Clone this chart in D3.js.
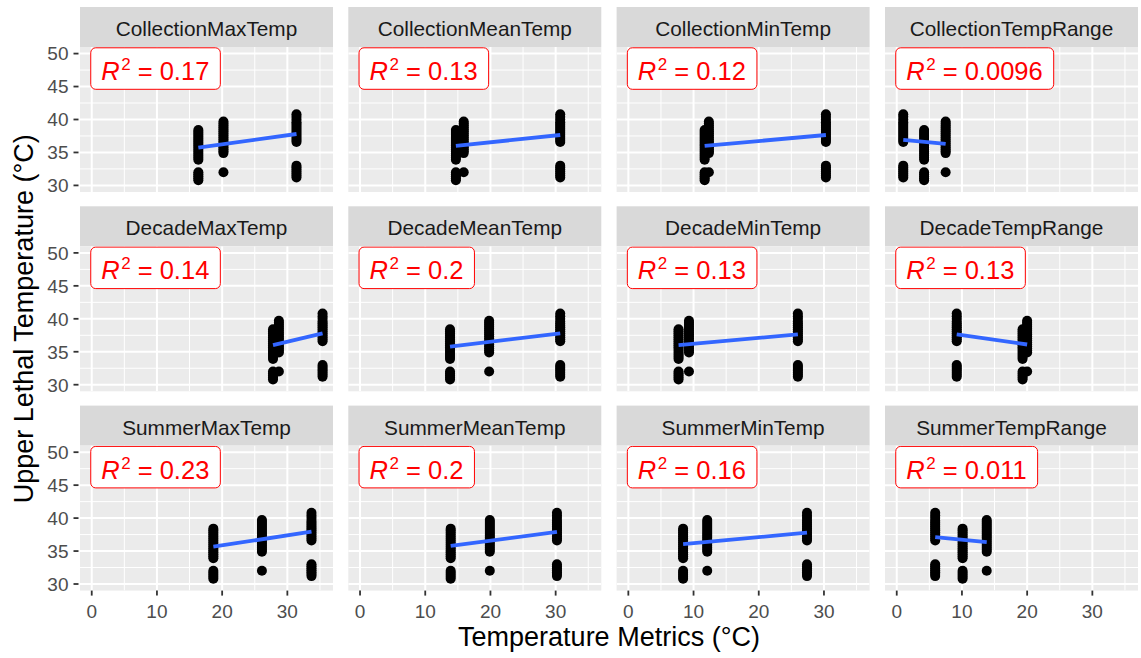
<!DOCTYPE html>
<html>
<head>
<meta charset="utf-8">
<script src="https://cdn.jsdelivr.net/npm/d3@7"></script>
<style>
  html, body { margin: 0; padding: 0; background: #ffffff; }
  svg { display: block; }
  text { font-family: "Liberation Sans", Arial, Helvetica, sans-serif; }
</style>
</head>
<body>
<svg id="chart" width="1141" height="658"></svg>
<script>
// ---------------- data ----------------
const metrics = [
  "CollectionMaxTemp", "CollectionMeanTemp", "CollectionMinTemp", "CollectionTempRange",
  "DecadeMaxTemp", "DecadeMeanTemp", "DecadeMinTemp", "DecadeTempRange",
  "SummerMaxTemp", "SummerMeanTemp", "SummerMinTemp", "SummerTempRange"
];
const r2Values = ["0.17", "0.13", "0.12", "0.0096", "0.14", "0.2", "0.13", "0.13", "0.23", "0.2", "0.16", "0.011"];

// temperature metric value of each collection site, per facet
const siteA_x = [16.35, 14.7, 11.7, 4.2, 27.8, 13.8, 7.7, 19.3, 18.65, 13.9, 8.4, 10.1];
const siteB_x = [20.2, 15.9, 12.35, 7.5, 28.7, 19.8, 9.3, 20.0, 26.1, 19.9, 12.1, 13.8];
const siteC_x = [31.4, 30.7, 30.3, 1.0, 35.4, 30.7, 26.0, 9.2, 33.7, 30.2, 27.4, 5.9];

// upper lethal temperatures measured at each site
const siteA_ult = [30.8, 31.1, 31.4, 31.7, 32.0, 33.9, 34.2, 34.5, 34.8, 35.1, 35.4, 35.7, 36.0, 36.3, 36.6, 36.9, 37.2, 37.5, 37.8, 38.1, 38.4];
const siteB_ult = [32.0, 34.9, 35.2, 35.5, 35.8, 36.1, 36.4, 36.7, 37.0, 37.3, 37.6, 37.9, 38.2, 38.5, 38.8, 39.1, 39.4, 39.7];
const siteC_ult = [31.2, 31.5, 31.8, 32.1, 32.4, 32.7, 33.0, 36.6, 36.9, 37.2, 37.5, 37.8, 38.1, 38.4, 38.7, 39.0, 39.3, 39.6, 40.0, 40.4, 40.8];

// linear fit: predicted ULT at the lowest and highest metric value
const fitStartY = [35.72, 36.0, 36.0, 36.9, 36.0, 35.77, 36.0, 37.65, 35.66, 35.8, 36.05, 37.1];
const fitEndY   = [37.8, 37.65, 37.65, 36.3, 37.8, 37.8, 37.65, 36.1, 37.94, 37.9, 37.8, 36.36];

const xTicks = [0, 10, 20, 30];
const xMinorTicks = [5, 15, 25, 35];
const yTicks = [30, 35, 40, 45, 50];
const yMinorTicks = [32.5, 37.5, 42.5, 47.5];

const xTitle = "Temperature Metrics (°C)";
const yTitle = "Upper Lethal Temperature (°C)";

// ---------------- layout ----------------
const svg = d3.select("#chart");
const colLeft = [80, 348.3, 616.6, 885];
const panelW = 253;
const stripTop = [7, 206.3, 405.6];
const stripH = 40;
const panelH = 145;

const x = d3.scaleLinear().domain([-1.8, 37.0]).range([0, panelW]);
const y = d3.scaleLinear().domain([29.0, 51.0]).range([panelH, 0]);

const sites = [
  { xs: siteA_x, ult: siteA_ult },
  { xs: siteB_x, ult: siteB_ult },
  { xs: siteC_x, ult: siteC_ult }
];

const defs = svg.append("defs");
defs.append("clipPath").attr("id", "panelClip")
  .append("rect").attr("x", 0).attr("y", 0).attr("width", panelW).attr("height", panelH);

metrics.forEach((m, i) => {
  const row = Math.floor(i / 4), col = i % 4;
  const left = colLeft[col];
  const sTop = stripTop[row];
  const pTop = sTop + stripH;

  // strip
  const strip = svg.append("g").attr("transform", `translate(${left},${sTop})`);
  strip.append("rect").attr("width", panelW).attr("height", stripH).attr("fill", "#d9d9d9");
  strip.append("text")
    .attr("x", panelW / 2).attr("y", 29)
    .attr("text-anchor", "middle")
    .attr("font-size", 20.8)
    .attr("fill", "#1a1a1a")
    .text(m);

  const g = svg.append("g").attr("transform", `translate(${left},${pTop})`);
  g.append("rect").attr("width", panelW).attr("height", panelH).attr("fill", "#ebebeb");

  const body = g.append("g").attr("clip-path", "url(#panelClip)");
  // minor grid
  body.selectAll(".ymin").data(yMinorTicks).join("line")
    .attr("x1", 0).attr("x2", panelW).attr("y1", d => y(d)).attr("y2", d => y(d))
    .attr("stroke", "#ffffff").attr("stroke-width", 1);
  body.selectAll(".xmin").data(xMinorTicks).join("line")
    .attr("y1", 0).attr("y2", panelH).attr("x1", d => x(d)).attr("x2", d => x(d))
    .attr("stroke", "#ffffff").attr("stroke-width", 1);
  // major grid
  body.selectAll(".ymaj").data(yTicks).join("line")
    .attr("x1", 0).attr("x2", panelW).attr("y1", d => y(d)).attr("y2", d => y(d))
    .attr("stroke", "#ffffff").attr("stroke-width", 2);
  body.selectAll(".xmaj").data(xTicks).join("line")
    .attr("y1", 0).attr("y2", panelH).attr("x1", d => x(d)).attr("x2", d => x(d))
    .attr("stroke", "#ffffff").attr("stroke-width", 2);

  // points
  const pts = [];
  sites.forEach(s => s.ult.forEach(u => pts.push({ xv: s.xs[i], yv: u })));
  body.selectAll("circle").data(pts).join("circle")
    .attr("cx", d => x(d.xv)).attr("cy", d => y(d.yv)).attr("r", 5)
    .attr("fill", "#000000");

  // fit line
  const xs = sites.map(s => s.xs[i]);
  const x0 = d3.min(xs), x1 = d3.max(xs);
  body.append("line")
    .attr("x1", x(x0)).attr("y1", y(fitStartY[i]))
    .attr("x2", x(x1)).attr("y2", y(fitEndY[i]))
    .attr("stroke", "#3366ff").attr("stroke-width", 3.8);

  // R^2 label
  const lab = body.append("g");
  const box = lab.append("rect");
  const t = lab.append("text")
    .attr("x", x(0) + 9.5).attr("y", 33)
    .attr("font-size", 25.5).attr("fill", "#ff0000");
  t.append("tspan").attr("font-style", "italic").text("R");
  t.append("tspan").attr("font-size", 17).attr("dy", -10).attr("dx", 1.5).text("2");
  t.append("tspan").attr("dy", 10).text(" = " + r2Values[i]);
  const w = t.node().getComputedTextLength();
  box.attr("x", x(0) - 1).attr("y", 0.8)
    .attr("width", w + 23).attr("height", 41.5)
    .attr("rx", 5).attr("ry", 5)
    .attr("fill", "#ffffff").attr("stroke", "#ff0000").attr("stroke-width", 1);

  // y axis (first column)
  if (col === 0) {
    const ya = g.append("g");
    ya.selectAll("line").data(yTicks).join("line")
      .attr("x1", -6.5).attr("x2", -1.5).attr("y1", d => y(d)).attr("y2", d => y(d))
      .attr("stroke", "#333333").attr("stroke-width", 1.8);
    ya.selectAll("text").data(yTicks).join("text")
      .attr("x", -11.5).attr("y", d => y(d) + 6.8)
      .attr("text-anchor", "end").attr("font-size", 19).attr("fill", "#4d4d4d")
      .text(d => d);
  }
  // x axis (bottom row)
  if (row === 2) {
    const xa = g.append("g").attr("transform", `translate(0,${panelH})`);
    xa.selectAll("line").data(xTicks).join("line")
      .attr("x1", d => x(d)).attr("x2", d => x(d)).attr("y1", 0).attr("y2", 5)
      .attr("stroke", "#333333").attr("stroke-width", 1.8);
    xa.selectAll("text").data(xTicks).join("text")
      .attr("x", d => x(d)).attr("y", 27.5)
      .attr("text-anchor", "middle").attr("font-size", 19).attr("fill", "#4d4d4d")
      .text(d => d);
  }
});

// axis titles
svg.append("text")
  .attr("x", (colLeft[0] + colLeft[3] + panelW) / 2).attr("y", 646)
  .attr("text-anchor", "middle").attr("font-size", 27).attr("fill", "#000000")
  .text(xTitle);
svg.append("text")
  .attr("transform", `translate(33,${(stripTop[0] + stripH + stripTop[2] + stripH + panelH) / 2}) rotate(-90)`)
  .attr("text-anchor", "middle").attr("font-size", 27).attr("fill", "#000000")
  .text(yTitle);
</script>
</body>
</html>
